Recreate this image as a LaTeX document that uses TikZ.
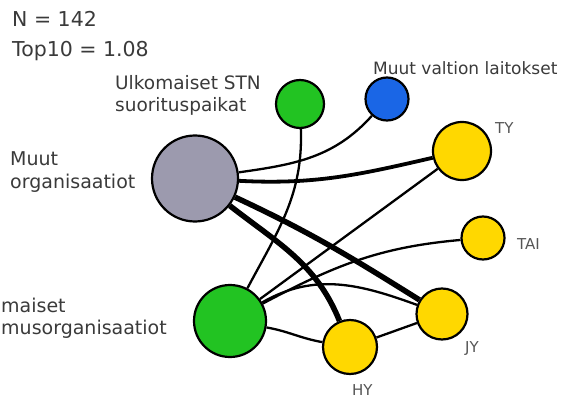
\documentclass[tikz,border=0pt]{standalone}
\usepackage{fontspec}
\setmainfont{DejaVu Sans}
\usetikzlibrary{backgrounds}
\definecolor{orggray}{HTML}{9C9AAE}
\definecolor{orggreen}{HTML}{22C322}
\definecolor{orgblue}{HTML}{1A66E6}
\definecolor{univyellow}{HTML}{FFD800}
\definecolor{labgray}{HTML}{3A3A3A}
\definecolor{shortgray}{HTML}{555555}
\begin{document}
\begin{tikzpicture}[x=1pt,y=-1pt,
    org/.style={shape=circle,draw=black,line width=2.2pt,inner sep=0pt},
    lab/.style={anchor=base west,inner sep=0pt,text=labgray,align=left},
    short/.style={anchor=base west,inner sep=0pt,text=shortgray,font=\fontsize{15}{18}\selectfont},
    link/.style={line width=2.3pt}]
    \useasboundingbox (0,0) rectangle (578,401);

    \node[org,fill=orggray,minimum size=86] (MO) at (195,178.5) {};
    \node[org,fill=orggreen,minimum size=72] (KT) at (230,321) {};
    \node[org,fill=orggreen,minimum size=48] (US) at (300,104) {};
    \node[org,fill=orgblue,minimum size=43] (MV) at (387,99) {};
    \node[org,fill=univyellow,minimum size=58] (TY) at (462,151) {};
    \node[org,fill=univyellow,minimum size=43] (TAI) at (483,238) {};
    \node[org,fill=univyellow,minimum size=51] (JY) at (442,314) {};
    \node[org,fill=univyellow,minimum size=54] (HY) at (350,347) {};

    \node[lab,font=\fontsize{20.5}{24}\selectfont] (Nlab) at (12,27) {N = 142};
    \node[lab,font=\fontsize{20.5}{24}\selectfont] (Toplab) at (12,57) {Top10 = 1.08};
    \node[lab,font=\fontsize{18.5}{22}\selectfont] (USlab) at (115,112) {Ulkomaiset STN\\suorituspaikat};
    \node[lab,font=\fontsize{17}{20}\selectfont] (MVlab) at (373,75) {Muut valtion laitokset};
    \node[lab,font=\fontsize{19}{23}\selectfont] (MOlab) at (10,188) {Muut\\organisaatiot};
    \node[lab,font=\fontsize{19}{22}\selectfont] (KTlab) at (1,334) {maiset\\musorganisaatiot};
    \node[short] (TYlab) at (495,133) {TY};
    \node[short] (TAIlab) at (517,249) {TAI};
    \node[short] (JYlab) at (465,352) {JY};
    \node[short] (HYlab) at (352,395) {HY};

    \begin{scope}[on background layer]
    \path[link] (MV) edge[out=228,in=8] (MO);
    \path[link] (US) edge[out=-88,in=62] (KT);
    \path[link,line width=3.8pt] (MO) edge[out=-3,in=193] (TY);
    \path[link,line width=5.5pt] (MO) edge[out=-25,in=148] (JY);
    \path[link,line width=5.5pt] (MO) edge[out=-38,in=112] (HY);
    \path[link] (KT) edge (TY);
    \path[link] (KT) edge[out=28,in=185] (TAI);
    \path[link] (KT) edge[out=30,in=160] (JY);
    \path[link] (KT) edge[out=-10,in=170] (HY);
    \path[link] (HY) edge (JY);
    \end{scope}
\end{tikzpicture}
\end{document}
